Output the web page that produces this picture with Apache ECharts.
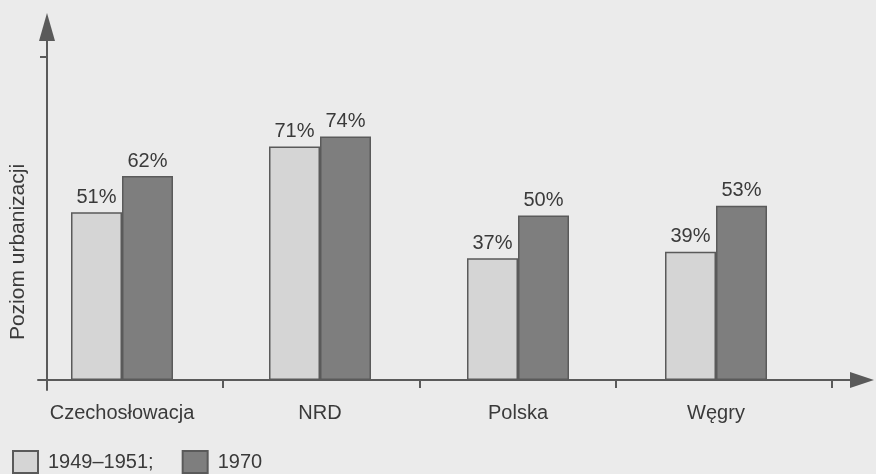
<!DOCTYPE html>
<html>
<head>
<meta charset="utf-8">
<script src="https://cdn.jsdelivr.net/npm/echarts@6/dist/echarts.min.js"></script>
<style>
html,body{margin:0;padding:0;background:#ebebeb;}
#chart{width:876px;height:474px;}
</style>
</head>
<body>
<div id="chart"></div>
<script>
const categories = ['Czechosłowacja', 'NRD', 'Polska', 'Węgry'];
const seriesNames = ['1949–1951', '1970'];
const values1949 = [51, 71, 37, 39];
const values1970 = [62, 74, 50, 53];
const yAxisTitle = 'Poziom urbanizacji';

const textColor = '#3a3a3a';
const lineColor = '#5a5a5a';
const font = 'Liberation Sans, Arial, sans-serif';

const chart = echarts.init(document.getElementById('chart'));
chart.setOption({
  backgroundColor: '#ebebeb',
  animation: false,
  textStyle: { fontFamily: font },
  legend: {
    left: 7, top: 445,
    icon: 'rect', itemWidth: 25, itemHeight: 22, itemGap: 28,
    data: seriesNames,
    formatter: function (n) { return n === seriesNames[0] ? n + ';' : n; },
    textStyle: { fontSize: 20, color: textColor, fontFamily: font, padding: [6, 0, 0, 5] }
  },
  graphic: [{
    type: 'text', x: 18, y: 252, rotation: Math.PI / 2,
    style: { text: yAxisTitle, fontSize: 21, fill: textColor, fontFamily: font,
             align: 'center', verticalAlign: 'middle' }
  }],
  grid: [
    { left: 38, right: 14, top: 27, bottom: 84 },
    { left: 23, width: 792, top: 51, bottom: 94 }
  ],
  xAxis: [
    { type: 'value', gridIndex: 0, min: -9, max: 815,
      splitLine: { show: false }, axisLabel: { show: false },
      axisLine: { show: true, onZero: true, symbol: ['none', 'triangle'], symbolSize: [16, 24],
                  lineStyle: { color: lineColor, width: 2 } },
      axisTick: { show: true, customValues: [176, 373, 569, 785], length: 8, inside: false,
                  lineStyle: { color: lineColor, width: 2 } } },
    { type: 'category', gridIndex: 1, data: categories,
      axisLine: { show: false }, axisTick: { show: false },
      axisLabel: { fontSize: 20, color: textColor, margin: 23, fontFamily: font } }
  ],
  yAxis: [
    { type: 'value', gridIndex: 0, min: -10, max: 353,
      splitLine: { show: false }, axisLabel: { show: false },
      axisTick: { show: true, customValues: [323], length: 7, inside: false,
                  lineStyle: { color: lineColor, width: 2 } },
      axisLine: { show: true, onZero: true, symbol: ['none', 'triangle'], symbolSize: [16, 28],
                  lineStyle: { color: lineColor, width: 2 } } },
    { type: 'value', gridIndex: 1, min: 0, max: 100,
      splitLine: { show: false }, axisLabel: { show: false }, axisTick: { show: false },
      axisLine: { show: false } }
  ],
  series: [
    { name: seriesNames[0], type: 'bar', xAxisIndex: 1, yAxisIndex: 1, data: values1949,
      barWidth: 51, barGap: '0%',
      itemStyle: { color: '#d5d5d5', borderColor: lineColor, borderWidth: 1.5 },
      label: { show: true, position: 'top', distance: 5, formatter: '{c}%', fontSize: 20, color: textColor, fontFamily: font } },
    { name: seriesNames[1], type: 'bar', xAxisIndex: 1, yAxisIndex: 1, data: values1970,
      barWidth: 51, barGap: '0%',
      itemStyle: { color: '#7e7e7e', borderColor: lineColor, borderWidth: 1.5 },
      label: { show: true, position: 'top', distance: 5, formatter: '{c}%', fontSize: 20, color: textColor, fontFamily: font } }
  ]
});
</script>
</body>
</html>
